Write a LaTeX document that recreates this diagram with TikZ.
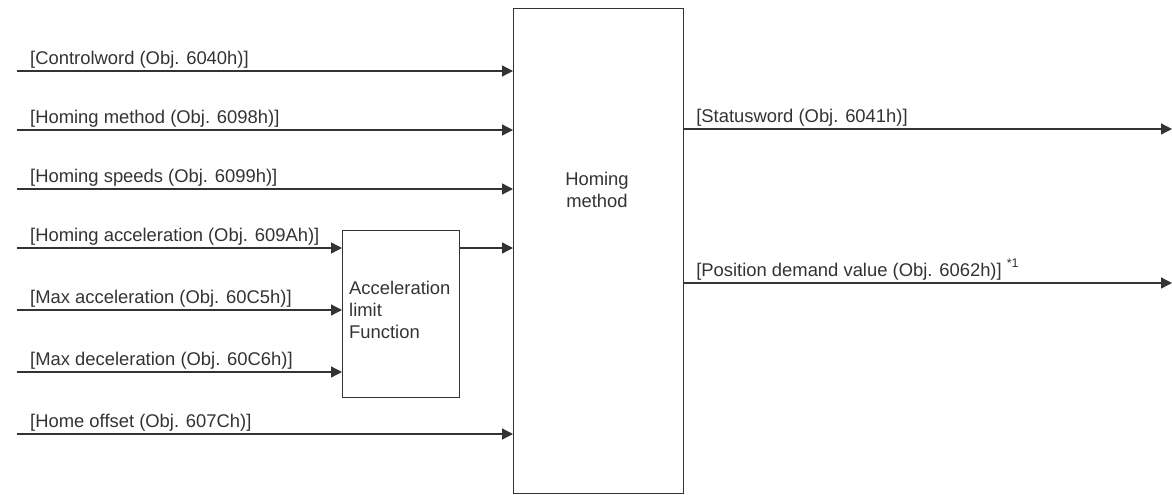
\documentclass[tikz,border=0pt]{standalone}
\usepackage{fontspec}
\setmainfont{Liberation Sans}
\usetikzlibrary{arrows.meta}
\definecolor{ink}{HTML}{333333}
\begin{document}
\begin{tikzpicture}[x=1pt,y=-1pt,
  every node/.style={text=ink,font=\fontsize{18.4}{21.7}\selectfont,inner sep=0pt},
  sig/.style={draw=ink,line width=1.3pt,-{Triangle[length=11pt,width=11pt]}},
  box/.style={draw=ink,line width=1.1pt,fill=none},
  lbl/.style={anchor=base west}]
\useasboundingbox (0,0) rectangle (1172,495);
% boxes
\node[box,minimum width=170pt,minimum height=485pt,anchor=north west] (hm) at (513,8) {};
\node[align=center,anchor=base] (hmt) at (597,207) {Homing\\method};
\node[box,minimum width=117pt,minimum height=167pt,anchor=north west] (acc) at (342,230) {};
\node[align=left,anchor=base west] (acct) at (349,338) {Acceleration\\limit\\Function};
% inputs
\coordinate (i1) at (17,71);
\coordinate (i2) at (17,130);
\coordinate (i3) at (17,189);
\coordinate (i4) at (17,248);
\coordinate (i5) at (17,310);
\coordinate (i6) at (17,372);
\coordinate (i7) at (17,434);
\draw[sig] (i1) -- (i1 -| hm.west);
\draw[sig] (i2) -- (i2 -| hm.west);
\draw[sig] (i3) -- (i3 -| hm.west);
\draw[sig] (i4) -- (i4 -| acc.west);
\draw[sig] (i5) -- (i5 -| acc.west);
\draw[sig] (i6) -- (i6 -| acc.west);
\draw[sig] (i7) -- (i7 -| hm.west);
\coordinate (ao) at (acc.east |- i4);
\draw[sig] (ao) -- (ao -| hm.west);
\node[lbl] (l1) at ([xshift=13pt,yshift=6.5pt]i1) {[Controlword (Obj. 6040h)]};
\node[lbl] (l2) at ([xshift=13pt,yshift=6.5pt]i2) {[Homing method (Obj. 6098h)]};
\node[lbl] (l3) at ([xshift=13pt,yshift=6.5pt]i3) {[Homing speeds (Obj. 6099h)]};
\node[lbl] (l4) at ([xshift=13pt,yshift=6.5pt]i4) {[Homing acceleration (Obj. 609Ah)]};
\node[lbl] (l5) at ([xshift=13pt,yshift=6.5pt]i5) {[Max acceleration (Obj. 60C5h)]};
\node[lbl] (l6) at ([xshift=13pt,yshift=6.5pt]i6) {[Max deceleration (Obj. 60C6h)]};
\node[lbl] (l7) at ([xshift=13pt,yshift=6.5pt]i7) {[Home offset (Obj. 607Ch)]};
% outputs
\coordinate (o1) at (1172,129);
\coordinate (o2) at (1172,283);
\draw[sig] (o1 -| hm.east) -- (o1);
\draw[sig] (o2 -| hm.east) -- (o2);
\node[lbl] (r1) at ([xshift=12pt,yshift=6.5pt]o1 -| hm.east) {[Statusword (Obj. 6041h)]};
\node[lbl] (r2) at ([xshift=12pt,yshift=6.5pt]o2 -| hm.east) {[Position demand value (Obj. 6062h)]\hspace{5pt}\raisebox{0.5em}{\fontsize{12.5}{13}\selectfont *1}};
\end{tikzpicture}
\end{document}
